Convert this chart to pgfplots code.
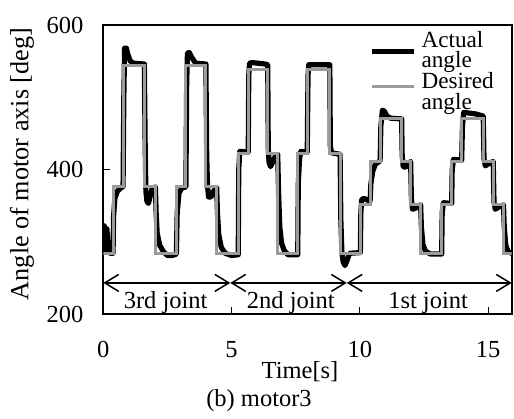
\documentclass[border=0pt]{standalone}
\usepackage{fontspec}
\setmainfont{Liberation Serif}
\usepackage{pgfplots}
\pgfplotsset{compat=1.18}
\usetikzlibrary{arrows.meta}
\definecolor{desired}{RGB}{155,155,155}
\newcommand{\mainfont}{\fontsize{12.25}{14}\selectfont}
\begin{document}
\begin{tikzpicture}
\begin{axis}[
  scale only axis, width=204.2pt, height=144.5pt,
  xmin=0, xmax=15.92, ymin=200, ymax=600,
  xtick={0,5,10,15}, ytick={200,400,600},
  tick align=inside, tick pos=left,
  major tick length=3.5pt,
  every tick/.style={black, line width=0.5pt},
  axis line style={line width=0.8pt},
  /pgf/number format/assume math mode=true,
  tick label style={font=\mainfont},
  xticklabel style={inner sep=0pt, anchor=base, yshift=-21.65pt},
  yticklabel style={inner sep=0pt, anchor=east, xshift=-9.8pt},
  xlabel={Time[s]}, ylabel={Angle of motor axis [deg]},
  every axis x label/.style={at={(axis description cs:0.4816,0)}, anchor=base, yshift=-32.15pt, font=\mainfont},
  every axis y label/.style={at={(axis description cs:-0.199,0.519)}, anchor=center, rotate=90, font=\fontsize{13.1}{15}\selectfont},
  title={(b) motor3},
  every axis title/.style={at={(axis description cs:0.3813,0)}, anchor=base, yshift=-46.35pt, font=\mainfont},
  legend style={draw=none, fill=none, at={(axis cs:10.38,591)}, anchor=north west,
    inner sep=0pt, outer sep=0pt, row sep=0.8pt, column sep=2.6pt,
    nodes={inner sep=0pt, align=left, anchor=west, font=\fontsize{11.6}{10.2}\selectfont}},
  legend image code/.code={\draw[#1] (0pt,0pt) -- (20.8pt,0pt);},
]
\addplot[black, line width=2.6pt, line join=round] coordinates {
(0,300)(0.04,322)(0.09,288)(0.14,318)(0.2,286)(0.28,284)(0.38,284)
(0.40,335)(0.45,360)(0.55,370)(0.7,375)(0.77,376)
(0.80,500)(0.83,568)(0.9,568)(0.95,560)(1.05,550)(1.2,547)(1.6,546)
(1.63,440)(1.66,370)(1.70,356)(1.76,353)(1.82,362)(1.9,373)(2.03,376)
(2.06,340)(2.1,312)(2.2,295)(2.35,286)(2.5,281)(2.7,281)(2.85,283)
(2.88,340)(2.95,367)(3.05,374)(3.22,376)
(3.25,520)(3.28,561)(3.35,562)(3.45,555)(3.6,547)(4.0,546)
(4.03,420)(4.06,380)(4.1,362)(4.2,362)(4.3,370)(4.42,375)
(4.45,340)(4.5,310)(4.6,292)(4.75,284)(5.0,281)(5.26,282)
(5.28,400)(5.32,425)(5.65,424)
(5.67,530)(5.7,547)(5.8,548)(6.3,546)(6.41,545)
(6.43,430)(6.46,410)(6.52,404)(6.6,410)(6.7,418)(6.8,421)
(6.83,370)(6.88,320)(6.95,298)(7.05,288)(7.2,282)(7.58,282)
(7.60,380)(7.65,415)(7.7,425)(7.95,424)
(7.98,530)(8.01,545)(8.83,545)
(8.85,432)(8.9,423)(9.23,421)
(9.26,330)(9.3,286)(9.35,272)(9.42,267)(9.5,274)(9.6,284)(10.02,285)
(10.04,340)(10.07,358)(10.15,360)(10.4,356)
(10.43,380)(10.5,397)(10.6,407)(10.79,412)
(10.82,460)(10.88,482)(10.95,481)(11.05,474)(11.2,471)(11.63,470)
(11.65,420)(11.69,404)(11.78,403)(11.88,408)(11.98,411)
(12.01,360)(12.05,345)(12.15,346)(12.3,350)(12.37,351)
(12.40,320)(12.46,296)(12.56,287)(12.75,283)(13.19,283)
(13.21,340)(13.26,354)(13.58,353)
(13.6,400)(13.65,414)(13.97,413)
(14.0,460)(14.05,479)(14.5,477)(14.81,474)
(14.84,415)(14.89,405)(15.02,408)(15.2,411)
(15.23,355)(15.28,345)(15.42,348)(15.6,351)
(15.63,320)(15.69,295)(15.78,286)(15.92,284)
};
\addlegendentry{Actual\\angle}
\addplot[desired, line width=1.5pt, legend image post style={yshift=2.8pt}] coordinates {
(0,284)(0.38,284)(0.38,376)(0.77,376)(0.77,544)(1.61,544)(1.61,376)(2.03,376)(2.03,284)(2.85,284)(2.85,376)(3.22,376)(3.22,544)(4.0,544)(4.0,376)(4.42,376)(4.42,284)(5.26,284)
(5.26,422)(5.65,422)(5.65,538)(6.41,538)(6.41,422)(6.8,422)(6.8,284)(7.58,284)(7.58,422)(7.95,422)(7.95,538)(8.83,538)(8.83,422)(9.23,422)(9.23,284)(10.02,284)
(10.02,351)(10.4,351)(10.4,411)(10.79,411)(10.79,470)(11.63,470)(11.63,411)(11.98,411)(11.98,351)(12.37,351)(12.37,284)(13.19,284)(13.19,351)(13.58,351)(13.58,411)(13.97,411)(13.97,470)(14.81,470)(14.81,411)(15.2,411)(15.2,351)(15.6,351)(15.6,284)(15.92,284)
};
\addlegendentry{Desired\\angle}
\draw[line width=0.75pt, {Straight Barb[length=7pt,width=8.5pt]}-{Straight Barb[length=7pt,width=8.5pt]}] (axis cs:0,243) -- (axis cs:4.95,243);
\draw[line width=0.75pt, {Straight Barb[length=7pt,width=8.5pt]}-{Straight Barb[length=7pt,width=8.5pt]}] (axis cs:4.95,243) -- (axis cs:9.49,243);
\draw[line width=0.75pt, {Straight Barb[length=7pt,width=8.5pt]}-{Straight Barb[length=7pt,width=8.5pt]}] (axis cs:9.49,243) -- (axis cs:15.92,243);
\node[anchor=base, font=\mainfont] at (axis cs:2.43,208) {3rd joint};
\node[anchor=base, font=\mainfont] at (axis cs:7.31,208) {2nd joint};
\node[anchor=base, font=\mainfont] at (axis cs:12.66,208) {1st joint};
\end{axis}
\path ([shift={(-51.65pt,-47.5pt)}]current axis.south west) rectangle ([shift={(1.15pt,12.5pt)}]current axis.north east);
\end{tikzpicture}
\end{document}
